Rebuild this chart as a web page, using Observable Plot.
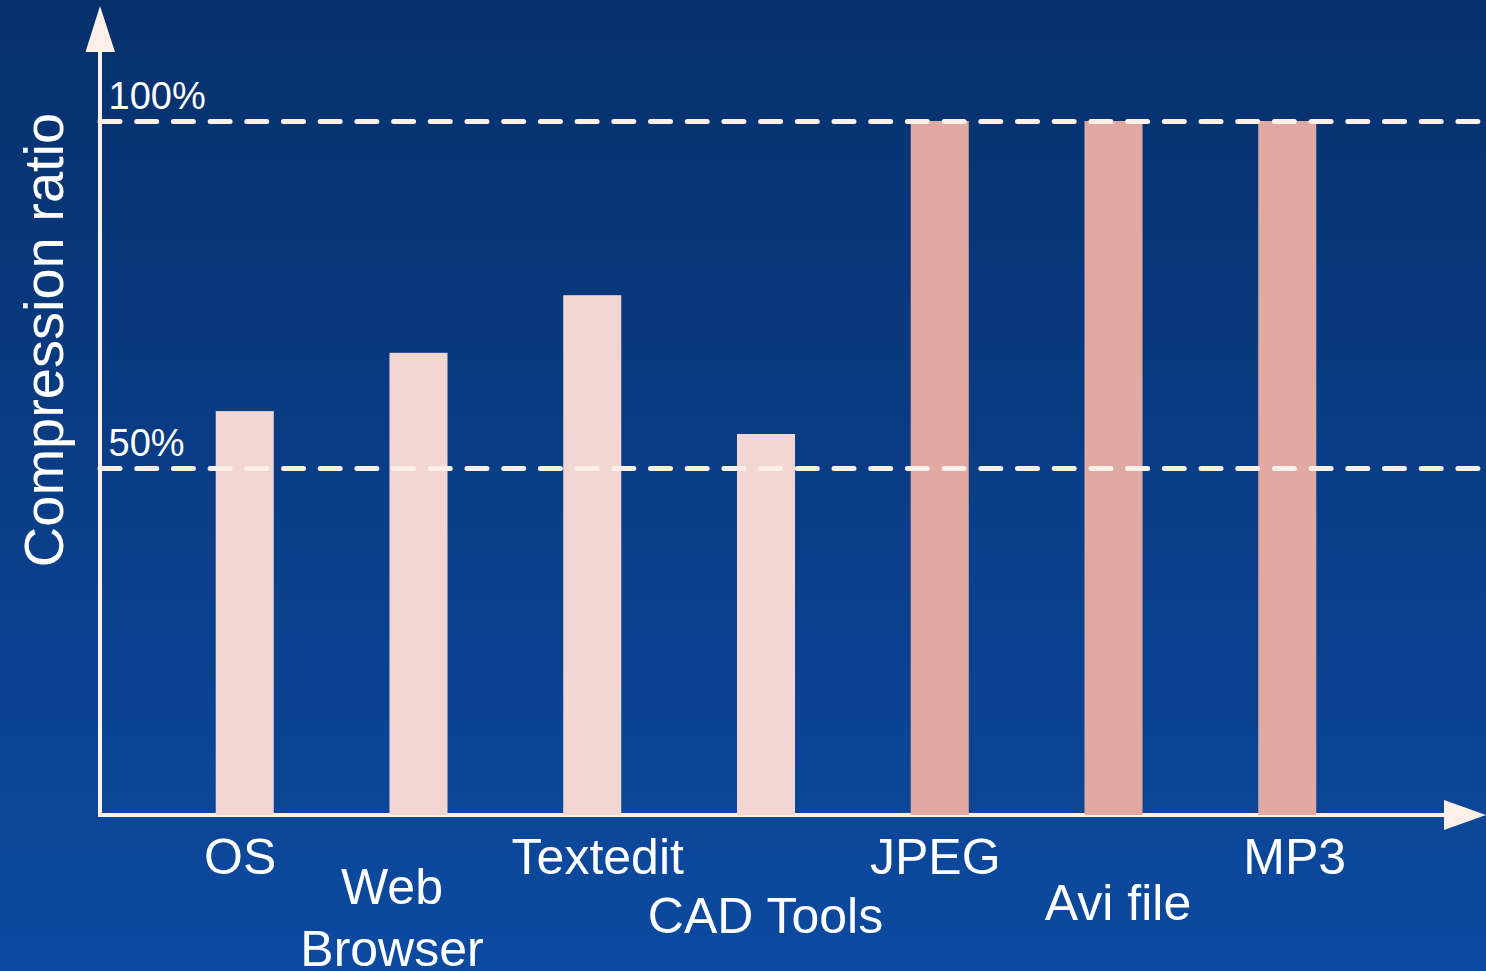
<!DOCTYPE html>
<html><head><meta charset="utf-8">
<script src="https://cdn.jsdelivr.net/npm/d3@7"></script>
<script src="https://cdn.jsdelivr.net/npm/@observablehq/plot@0.6"></script>
<style>html,body{margin:0;padding:0;background:#0a3f88;overflow:hidden;}</style>
</head><body><div id="chart"></div>
<script>
const categories = ["OS", "Web Browser", "Textedit", "CAD Tools", "JPEG", "Avi file", "MP3"];
const ratios = [58.2, 66.6, 74.9, 54.9, 100, 100, 100];
const kinds = ["text", "text", "text", "text", "media", "media", "media"];
const gridValues = [50, 100];
const gridLabels = ["50%", "100%"];
const axisTitle = "Compression ratio";

const data = categories.map((c, i) => ({category: c, ratio: ratios[i], kind: kinds[i]}));

const ink = "#fdf0e8";
const W = 1486, H = 971;

// label layout (pixel offsets from the bar centre / baseline)
const labelLayout = {
  "OS": {dx: -5, dy: 58},
  "Web Browser": {dx: -27, dy: 150, text: "Web\nBrowser"},
  "Textedit": {dx: 5, dy: 58},
  "CAD Tools": {dx: -1, dy: 117},
  "JPEG": {dx: -5, dy: 58},
  "Avi file": {dx: 4, dy: 104},
  "MP3": {dx: 7, dy: 58}
};

function axesMark(index, scales, values, dims) {
  const g = d3.create("svg:g");
  const x0 = dims.marginLeft, y0 = scales.y(0);
  g.append("line").attr("x1", x0).attr("x2", x0).attr("y1", y0 + 2).attr("y2", 48)
    .attr("stroke", ink).attr("stroke-width", 4);
  g.append("line").attr("x1", x0 - 2).attr("x2", dims.width - 40).attr("y1", y0).attr("y2", y0)
    .attr("stroke", ink).attr("stroke-width", 4);
  g.append("path").attr("d", `M${x0},6L${x0 - 14.5},52L${x0 + 15},52Z`).attr("fill", ink);
  g.append("path").attr("d", `M${dims.width},${y0}L${dims.width - 42},${y0 - 15}L${dims.width - 42},${y0 + 15}Z`).attr("fill", ink);
  return g.node();
}

const labelMarks = categories.map(c => {
  const l = labelLayout[c];
  return Plot.text([c], {
    x: d => d, y: 0, text: d => l.text || d,
    dx: l.dx, dy: l.dy, lineAnchor: "bottom", textAnchor: "middle",
    lineHeight: 1.24, fontSize: 50, fill: "white"
  });
});

const chart = Plot.plot({
  width: W, height: H,
  marginLeft: 100, marginRight: 0, marginTop: 0, marginBottom: 0,
  style: {
    background: "linear-gradient(to bottom, #06306c 0%, #0c4aa0 100%)",
    fontFamily: "'Liberation Sans', Arial, sans-serif",
    color: "white"
  },
  x: {type: "band", domain: categories, range: [100, 1432], padding: 0.666, round: false, axis: null},
  y: {domain: [0, 100], range: [815, 121], axis: null},
  color: {domain: ["text", "media"], range: ["#f1d6d2", "#e0a9a1"]},
  marks: [
    axesMark,
    Plot.barY(data, {x: "category", y: "ratio", fill: "kind"}),
    Plot.ruleY(gridValues, {stroke: ink, strokeWidth: 5, strokeDasharray: "20,16.7", strokeLinecap: "round"}),
    Plot.text(gridLabels, {y: (d, i) => gridValues[i], frameAnchor: "left", dx: 8, dy: -13,
      textAnchor: "start", lineAnchor: "bottom", fontSize: 38, fill: "white"}),
    Plot.text([axisTitle], {frameAnchor: "left", dx: -38, dy: -146, rotate: -90,
      textAnchor: "middle", lineAnchor: "bottom", fontSize: 56, fill: "white"}),
    ...labelMarks
  ]
});
document.getElementById("chart").appendChild(chart);
</script>
</body></html>
